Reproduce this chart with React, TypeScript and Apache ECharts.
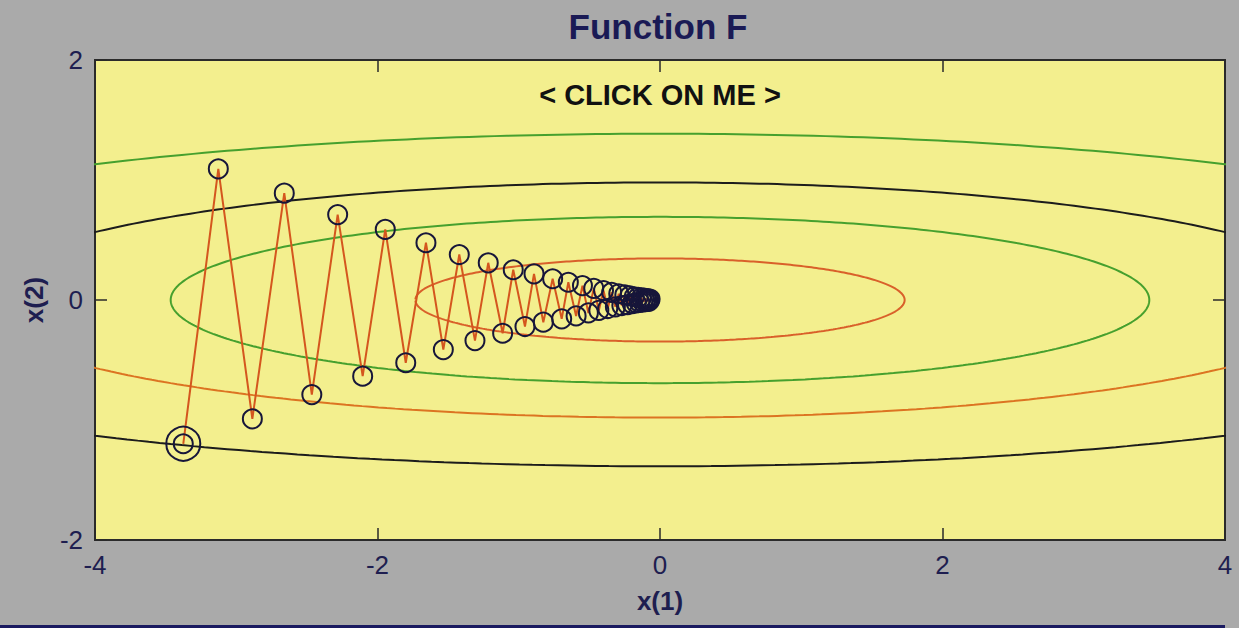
import React, { useEffect, useRef } from "react";
import * as echarts from "echarts";

// Axis ranges and ticks
const xRange = [-4, 4];
const yRange = [-2, 2];
const tickStep = 2;

// Objective f(x1, x2) = c1 * x1^2 + c2 * x2^2 and the contour levels drawn
const coefX1 = 1;
const coefX2 = 25;
const contourLevels = [3, 12, 24, 48];
// colour of each level's [upper, lower] half
const contourColors = [
  ["#d9602a", "#d9602a"],
  ["#46a02e", "#46a02e"],
  ["#1c1c1c", "#dc7422"],
  ["#46a02e", "#1c1c1c"],
];

// Iterates of the descent path
const iterX1 = [
  -3.375, -3.127, -2.886, -2.66, -2.465, -2.282, -2.105, -1.945, -1.8, -1.657,
  -1.534, -1.421, -1.31, -1.216, -1.114, -1.039, -0.956, -0.892, -0.826, -0.76,
  -0.696, -0.649, -0.594, -0.549, -0.507, -0.469, -0.433, -0.4, -0.37, -0.342,
  -0.316, -0.292, -0.27, -0.249, -0.23, -0.213, -0.197, -0.182, -0.168, -0.155,
  -0.143, -0.132, -0.122, -0.113, -0.104, -0.097, -0.089, -0.082, -0.076, -0.07,
];
const iterX2 = [
  -1.198, 1.093, -0.99, 0.89, -0.788, 0.712, -0.635, 0.588, -0.523, 0.477,
  -0.413, 0.379, -0.338, 0.31, -0.277, 0.252, -0.221, 0.218, -0.185, 0.177,
  -0.157, 0.148, -0.133, 0.12, -0.108, 0.097, -0.087, 0.079, -0.071, 0.064,
  -0.057, 0.052, -0.046, 0.042, -0.038, 0.034, -0.03, 0.027, -0.025, 0.022,
  -0.02, 0.018, -0.016, 0.015, -0.013, 0.012, -0.011, 0.01, -0.009, 0.008,
];

const titleText = "Function F";
const noteText = "< CLICK ON ME >";
const xName = "x(1)";
const yName = "x(2)";

const NAVY = "#1e1e50";
const FONT = "'Liberation Sans', Arial, sans-serif";

// Level set of f at value `level`, upper (sign=1) or lower (sign=-1) half
function levelCurve(level: number, sign: number): number[][] {
  const a = Math.sqrt(level / coefX1);
  const b = Math.sqrt(level / coefX2);
  const pts: number[][] = [];
  const n = 240;
  for (let i = 0; i <= n; i++) {
    const t = (Math.PI * i) / n;
    pts.push([a * Math.cos(t), sign * b * Math.sin(t)]);
  }
  return pts;
}

export default function App() {
  const ref = useRef<HTMLDivElement>(null);

  useEffect(() => {
    if (!ref.current) return;
    const chart = echarts.init(ref.current, undefined, { renderer: "svg" });

    const contourSeries: any[] = [];
    contourLevels.forEach((lvl, i) => {
      [1, -1].forEach((sign, k) => {
        contourSeries.push({
          type: "line",
          data: levelCurve(lvl, sign),
          showSymbol: false,
          silent: true,
          clip: true,
          z: 2,
          lineStyle: { color: contourColors[i][k], width: 2 },
        });
      });
    });

    const path = iterX1.map((x, i) => [x, iterX2[i]]);

    const tickAxis = {
      type: "value",
      interval: tickStep,
      axisLine: { show: false, onZero: false },
      axisTick: { show: true, inside: true, length: 12, lineStyle: { color: "#2a2a2a", width: 1.5 } },
      splitLine: { show: false },
    };
    const labelStyle = { color: NAVY, fontSize: 26, fontFamily: FONT };
    const nameStyle = { color: NAVY, fontSize: 26, fontWeight: "bold", fontFamily: FONT };
    const ringStyle = { color: "rgba(0,0,0,0)", borderColor: "#17163a", borderWidth: 2, opacity: 1 };

    chart.setOption({
      animation: false,
      backgroundColor: "#aaaaaa",
      grid: {
        left: 95,
        top: 60,
        width: 1130,
        height: 480,
        show: true,
        backgroundColor: "#f3ef8e",
        borderColor: "#2b2b2b",
        borderWidth: 2,
        z: 0,
      },
      xAxis: [
        {
          ...tickAxis,
          min: xRange[0],
          max: xRange[1],
          position: "bottom",
          axisLabel: { ...labelStyle, margin: 12 },
          name: xName,
          nameLocation: "middle",
          nameGap: 48,
          nameTextStyle: nameStyle,
        },
        {
          ...tickAxis,
          min: xRange[0],
          max: xRange[1],
          position: "top",
          axisLabel: { show: false },
        },
      ],
      yAxis: [
        {
          ...tickAxis,
          min: yRange[0],
          max: yRange[1],
          position: "left",
          axisLabel: { ...labelStyle, margin: 12 },
          name: yName,
          nameLocation: "middle",
          nameRotate: 90,
          nameGap: 48,
          nameTextStyle: nameStyle,
        },
        {
          ...tickAxis,
          min: yRange[0],
          max: yRange[1],
          position: "right",
          axisLabel: { show: false },
        },
      ],
      series: [
        ...contourSeries,
        {
          type: "line",
          data: path,
          z: 3,
          symbol: "circle",
          symbolSize: 19,
          showSymbol: true,
          lineStyle: { color: "#d4561e", width: 2 },
          itemStyle: ringStyle,
          silent: true,
        },
        {
          type: "scatter",
          data: [path[0]],
          z: 4,
          symbol: "circle",
          symbolSize: 34,
          itemStyle: ringStyle,
          silent: true,
        },
      ],
      graphic: [
        {
          type: "text",
          x: 658,
          y: 26,
          style: {
            text: titleText,
            align: "center",
            verticalAlign: "middle",
            fill: "#1a1a55",
            font: `bold 35px ${FONT}`,
          },
        },
        {
          type: "text",
          x: 660,
          y: 95,
          z: 10,
          style: {
            text: noteText,
            align: "center",
            verticalAlign: "middle",
            fill: "#111111",
            font: `bold 29px ${FONT}`,
          },
        },
        {
          type: "rect",
          shape: { x: 0, y: 625, width: 1225, height: 3 },
          style: { fill: "#1a1a60" },
        },
      ],
    });

    return () => chart.dispose();
  }, []);

  return (
    <div
      ref={ref}
      style={{ position: "fixed", left: 0, top: 0, width: 1239, height: 628 }}
    />
  );
}
